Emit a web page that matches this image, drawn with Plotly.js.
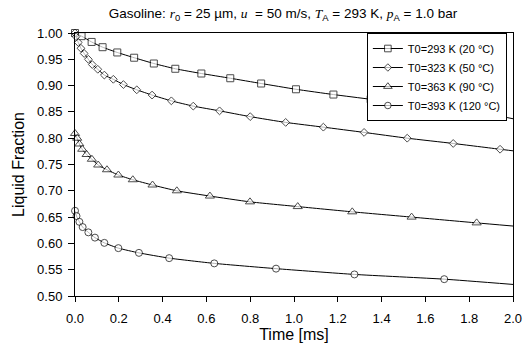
<!DOCTYPE html>
<html>
<head>
<meta charset="utf-8">
<script src="https://cdn.plot.ly/plotly-3.0.1.min.js"></script>
<style>html,body{margin:0;padding:0;background:#fff;}#chart{width:528px;height:351px;}</style>
</head>
<body>
<div id="chart"></div>
<script>
// Marker points (time in ms, liquid fraction)
const t293 = [0, 0.03, 0.076, 0.126, 0.193, 0.27, 0.36, 0.458, 0.577, 0.709, 0.85, 1.009, 1.18, 1.35, 1.537, 1.727, 1.925];
const v293 = [1.000, 0.994, 0.983, 0.973, 0.963, 0.953, 0.942, 0.932, 0.923, 0.914, 0.904, 0.893, 0.883, 0.874, 0.864, 0.853, 0.843];
const t323 = [0, 0.005, 0.015, 0.027, 0.042, 0.061, 0.079, 0.104, 0.134, 0.175, 0.221, 0.282, 0.352, 0.44, 0.54, 0.66, 0.80, 0.962, 1.134, 1.32, 1.517, 1.727, 1.941];
const v323 = [1.000, 0.993, 0.982, 0.971, 0.961, 0.950, 0.940, 0.931, 0.920, 0.912, 0.902, 0.892, 0.882, 0.871, 0.861, 0.852, 0.841, 0.830, 0.821, 0.811, 0.800, 0.790, 0.779];
const t363 = [0, 0.01, 0.02, 0.033, 0.053, 0.077, 0.106, 0.146, 0.198, 0.264, 0.354, 0.465, 0.616, 0.799, 1.017, 1.266, 1.537, 1.834];
const v363 = [0.809, 0.800, 0.789, 0.779, 0.769, 0.760, 0.749, 0.740, 0.730, 0.721, 0.711, 0.700, 0.690, 0.679, 0.670, 0.660, 0.650, 0.639];
const t393 = [0, 0.007, 0.02, 0.035, 0.061, 0.091, 0.134, 0.198, 0.292, 0.43, 0.636, 0.918, 1.276, 1.686];
const v393 = [0.662, 0.652, 0.641, 0.631, 0.621, 0.611, 0.601, 0.591, 0.582, 0.572, 0.562, 0.552, 0.541, 0.532];
// Curve end values at t = 2.0 ms
const tEnd = 2.0;
const vEnd = [0.837, 0.776, 0.633, 0.522];
const seriesNames = ['T0=293 K (20 °C)', 'T0=323 K (50 °C)', 'T0=363 K (90 °C)', 'T0=393 K (120 °C)'];
const symbols = ['square', 'diamond', 'triangle-up', 'circle'];
const symSizes = [7, 6, 8, 7];

const ts = [t293, t323, t363, t393];
const vs = [v293, v323, v363, v393];

const traces = ts.map((t, i) => {
  const x = t.concat([tEnd]);
  const y = vs[i].concat([vEnd[i]]);
  const sizes = x.map((_, j) => j === x.length - 1 ? 0 : symSizes[i]);
  return {
    x: x, y: y, name: seriesNames[i], type: 'scatter', mode: 'lines+markers',
    cliponaxis: false,
    line: {color: '#000', width: 1, shape: 'spline', smoothing: 0.5},
    marker: {symbol: symbols[i], size: sizes, color: '#fff', line: {color: '#000', width: 1}}
  };
});

const sf = 'font-family:Liberation Serif,serif';
const layout = {
  width: 528, height: 351,
  margin: {l: 75, r: 15, t: 33, b: 55},
  paper_bgcolor: '#fff', plot_bgcolor: '#fff',
  font: {family: 'Liberation Sans, Arial, sans-serif', color: '#000', size: 12},
  title: {
    text: 'Gasoline: <span style="' + sf + '"><i>r</i></span><sub>0</sub> = 25 µm, <span style="' + sf + '"><i>u</i></span>  = 50 m/s, <span style="' + sf + '"><i>T</i></span><sub>A</sub> = 293 K, <span style="' + sf + '"><i>p</i></span><sub>A</sub> = 1.0 bar',
    font: {size: 13.5, color: '#000'},
    x: 0.536, xanchor: 'center', y: 0.962, yanchor: 'middle'
  },
  xaxis: {
    range: [0, 2], dtick: 0.2, tick0: 0, tickformat: '.1f',
    showgrid: false, zeroline: false, showline: true, mirror: true,
    linecolor: '#000', linewidth: 1, ticks: 'outside', ticklen: 5, tickcolor: '#000',
    tickfont: {size: 13}, ticklabelstandoff: 5,
    title: {text: 'Time [ms]', font: {size: 16}, standoff: 4}
  },
  yaxis: {
    range: [0.5, 1.0], dtick: 0.05, tick0: 0.5, tickformat: '.2f',
    showgrid: false, zeroline: false, showline: true, mirror: true,
    linecolor: '#000', linewidth: 1, ticks: 'outside', ticklen: 6, tickcolor: '#000',
    tickfont: {size: 13}, ticklabelstandoff: 3,
    title: {text: 'Liquid Fraction', font: {size: 16}, standoff: 8}
  },
  legend: {
    x: 0.986, xanchor: 'right', y: 1.0, yanchor: 'top',
    bgcolor: '#fff', bordercolor: '#000', borderwidth: 1,
    font: {size: 11}, tracegroupgap: 0, itemwidth: 30
  },
  showlegend: true
};

Plotly.newPlot('chart', traces, layout, {displayModeBar: false, staticPlot: true});
</script>
</body>
</html>
